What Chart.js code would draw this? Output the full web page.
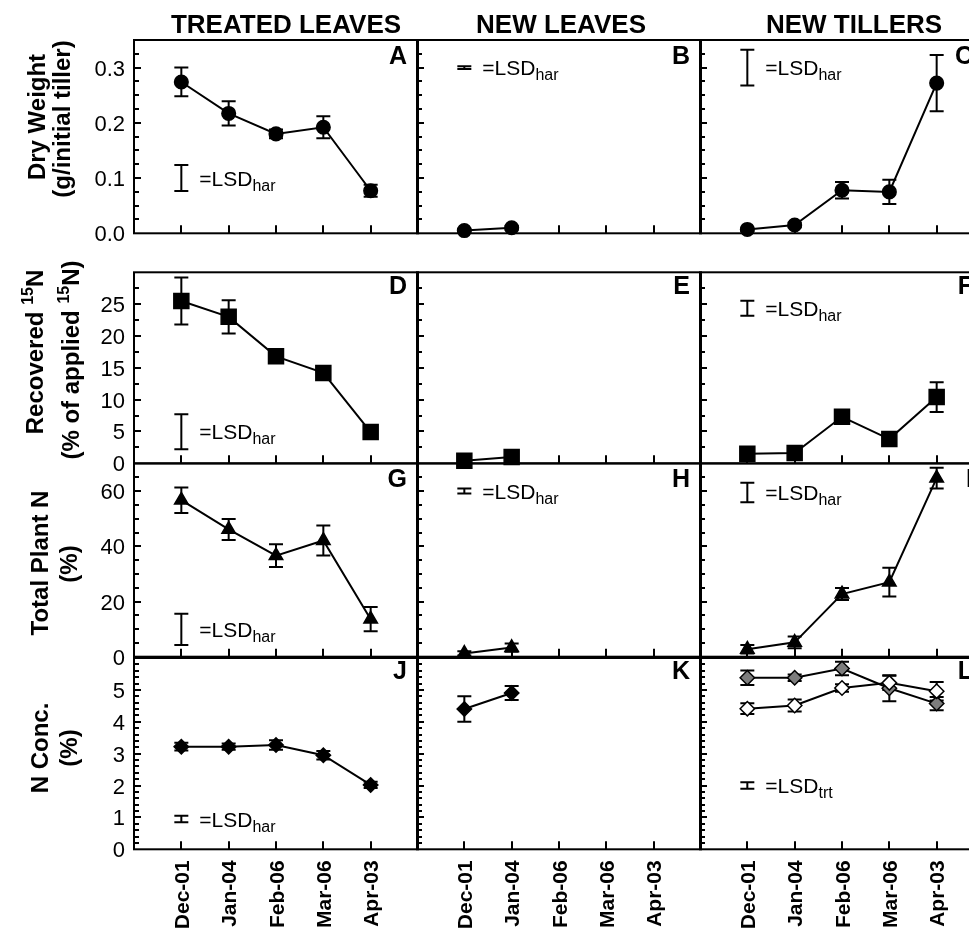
<!DOCTYPE html>
<html>
<head>
<meta charset="utf-8">
<script src="https://cdn.jsdelivr.net/npm/chart.js@4.4.1/dist/chart.umd.min.js"></script>
<style>
  html, body { margin: 0; padding: 0; background: #fff; overflow: hidden; }
  #wrap { position: relative; width: 969px; height: 928px; overflow: hidden; background: #fff; }
  #wrap canvas { position: absolute; left: 0; top: 0; }
</style>
</head>
<body>
<div id="wrap"></div>
<script>
// ---- Harvest dates (x categories) ----
const months = ['Dec-01', 'Jan-04', 'Feb-06', 'Mar-06', 'Apr-03'];

// ---- Dry weight (g/initial tiller) ----
const dwTreated        = [0.274, 0.217, 0.180, 0.192, 0.077];
const dwTreatedErr     = [0.026, 0.022, 0.008, 0.020, 0.011];
const dwNewLeaves      = [0.005, 0.010, null, null, null];
const dwNewLeavesErr   = [0.002, 0.003, 0, 0, 0];
const dwNewTillers     = [0.007, 0.015, 0.078, 0.075, 0.272];
const dwNewTillersErr  = [0.003, 0.004, 0.015, 0.022, 0.051];
const dwLsd            = [0.047, 0.005, 0.065];   // LSD(har) per column
const dwLsdAt          = [0.10, 0.30, 0.30];      // value the LSD bar is centred on

// ---- Recovered 15N (% of applied 15N) ----
const rnTreated        = [25.5, 23.0, 16.8, 14.2, 4.9];
const rnTreatedErr     = [3.7, 2.6, 0.6, 0.7, 1.0];
const rnNewLeaves      = [0.4, 1.0, null, null, null];
const rnNewLeavesErr   = [0.3, 0.3, 0, 0, 0];
const rnNewTillers     = [1.5, 1.6, 7.3, 3.8, 10.4];
const rnNewTillersErr  = [0.5, 0.6, 1.0, 0.7, 2.35];
const rnLsd            = [5.5, null, 2.35];
const rnLsdAt          = [4.95, null, 24.35];

// ---- Total plant N (%) ----
const tnTreated        = [56.7, 46.1, 36.6, 42.1, 13.6];
const tnTreatedErr     = [4.6, 3.8, 4.1, 5.45, 4.4];
const tnNewLeaves      = [1.2, 3.3, null, null, null];
const tnNewLeavesErr   = [0.8, 1.5, 0, 0, 0];
const tnNewTillers     = [2.7, 5.2, 22.7, 27.0, 64.7];
const tnNewTillersErr  = [1.5, 2.1, 2.2, 5.2, 3.8];
const tnLsd            = [11.3, 1.8, 7.1];
const tnLsdAt          = [9.9, 60.0, 59.5];

// ---- N concentration (%) ----
const ncTreated        = [3.22, 3.22, 3.27, 2.95, 2.02];
const ncTreatedErr     = [0.12, 0.10, 0.15, 0.13, 0.10];
const ncNewLeaves      = [4.40, 4.90, null, null, null];
const ncNewLeavesErr   = [0.40, 0.22, 0, 0, 0];
const ncTillersOpen    = [4.41, 4.51, 5.06, 5.22, 4.96];
const ncTillersOpenErr = [0.17, 0.19, 0.12, 0.22, 0.29];
const ncTillersGray    = [5.38, 5.38, 5.67, 5.05, 4.57];
const ncTillersGrayErr = [0.23, 0.10, 0.21, 0.41, 0.21];
const ncLsd            = [0.2, null, 0.2];
const ncLsdAt          = [0.95, null, 2.0];

// ---- Axis definitions per row ----
const yMax      = [0.35, 30, 70, 6];
const yMinor    = [0.025, 2.5, 5, 0.2];
const yMajor    = [0.1, 5, 20, 1];
const yDecimals = [1, 0, 0, 0];

const colTitles = ['TREATED LEAVES', 'NEW LEAVES', 'NEW TILLERS'];
// LSD subscript per panel: harvest-date LSD, except treatment LSD in panel L
const lsdSubs = [['har', 'har', 'har'], ['har', 'har', 'har'], ['har', 'har', 'har'], ['har', 'har', 'trt']];

// ---- Layout ----
const FONT = '"Liberation Sans", Arial, Helvetica, sans-serif';
const W = 1000, H = 928;
const colX = [[134, 418], [417, 701], [700, 984]];
const rowY = [[40, 233.3], [272.3, 463.3], [463.5, 656.7], [658, 849.3]];
const titleCx = [286, 561, 854];
const letterOffset = [24, 22, 23, 21];

const rowTitles = [
  { lines: [[{ t: 'Dry Weight' }], [{ t: '(g/initial tiller)' }]], x: [45, 70], cy: [117, 119] },
  { lines: [[{ t: 'Recovered ' }, { t: '15', sup: true }, { t: 'N' }],
            [{ t: '(% of applied ' }, { t: '15', sup: true }, { t: 'N)' }]], x: [43, 79], cy: [352, 360] },
  { lines: [[{ t: 'Total Plant N' }], [{ t: '(%)' }]], x: [48, 77], cy: [563, 564] },
  { lines: [[{ t: 'N Conc.' }], [{ t: '(%)' }]], x: [48, 77], cy: [748, 748] }
];

const marker = {
  circle:   { style: 'circle',   r: 6.8 },
  square:   { style: 'rect',     r: 10.6 },
  triangle: { style: 'triangle', r: 7.8 },
  diamond:  { style: 'rectRot',  r: 7.2 }
};

const rowValues = [
  [dwTreated, dwNewLeaves, dwNewTillers],
  [rnTreated, rnNewLeaves, rnNewTillers],
  [tnTreated, tnNewLeaves, tnNewTillers],
  [ncTreated, ncNewLeaves, null]
];
const rowErrors = [
  [dwTreatedErr, dwNewLeavesErr, dwNewTillersErr],
  [rnTreatedErr, rnNewLeavesErr, rnNewTillersErr],
  [tnTreatedErr, tnNewLeavesErr, tnNewTillersErr],
  [ncTreatedErr, ncNewLeavesErr, null]
];
const rowLsd   = [dwLsd, rnLsd, tnLsd, ncLsd];
const rowLsdAt = [dwLsdAt, rnLsdAt, tnLsdAt, ncLsdAt];
const rowMarker = ['circle', 'square', 'triangle', 'diamond'];
const letters = [['A', 'B', 'C'], ['D', 'E', 'F'], ['G', 'H', 'I'], ['J', 'K', 'L']];

function segFont(size, bold) {
  return (bold ? 'bold ' : '') + size + 'px ' + FONT;
}

// Draws a run of text segments (normal / superscript / subscript)
function drawRich(ctx, segs, x, y, align, rotate, size, bold, smallSize, shift) {
  ctx.save();
  ctx.translate(x, y);
  if (rotate) ctx.rotate(-Math.PI / 2);
  ctx.textBaseline = 'alphabetic';
  ctx.textAlign = 'left';
  ctx.fillStyle = '#000';
  let total = 0;
  const widths = segs.map(s => {
    ctx.font = segFont((s.sup || s.sub) ? smallSize : size, bold);
    const w = ctx.measureText(s.t).width;
    total += w;
    return w;
  });
  let cx = align === 'center' ? -total / 2 : (align === 'right' ? -total : 0);
  segs.forEach((s, i) => {
    ctx.font = segFont((s.sup || s.sub) ? smallSize : size, bold);
    const dy = s.sup ? -shift : (s.sub ? shift : 0);
    ctx.fillText(s.t, cx, dy);
    cx += widths[i];
  });
  ctx.restore();
}

function errorBars(ctx, xs, ys, values, errs) {
  if (!errs) return;
  ctx.save();
  ctx.strokeStyle = '#000';
  ctx.lineWidth = 2;
  values.forEach((v, i) => {
    const e = errs[i];
    if (v == null || !e) return;
    const px = xs.getPixelForValue(i + 1);
    const top = ys.getPixelForValue(v + e);
    const bot = ys.getPixelForValue(v - e);
    ctx.beginPath();
    ctx.moveTo(px, top); ctx.lineTo(px, bot);
    ctx.moveTo(px - 7, top); ctx.lineTo(px + 7, top);
    ctx.moveTo(px - 7, bot); ctx.lineTo(px + 7, bot);
    ctx.stroke();
  });
  ctx.restore();
}

const wrap = document.getElementById('wrap');

function makePanel(row, col) {
  const canvas = document.createElement('canvas');
  canvas.width = W; canvas.height = H;
  canvas.style.width = W + 'px'; canvas.style.height = H + 'px';
  wrap.appendChild(canvas);

  const [x0, x1] = colX[col];
  const [y0, y1] = rowY[row];
  const mk = marker[rowMarker[row]];

  // series for this panel
  let series;
  if (row === 3 && col === 2) {
    series = [
      { values: ncTillersOpen, errs: ncTillersOpenErr, fill: '#ffffff' },
      { values: ncTillersGray, errs: ncTillersGrayErr, fill: '#7d7d7d' }
    ];
  } else {
    series = [{ values: rowValues[row][col], errs: rowErrors[row][col], fill: '#000000' }];
  }

  const datasets = series.map(s => ({
    data: s.values.map((v, i) => ({ x: i + 1, y: v })).filter(d => d.y != null),
    borderColor: '#000',
    borderWidth: 2,
    tension: 0,
    fill: false,
    clip: false,
    pointStyle: mk.style,
    pointRadius: mk.r,
    pointHoverRadius: mk.r,
    pointBackgroundColor: s.fill,
    pointBorderColor: '#000',
    pointBorderWidth: 1.5
  }));

  const lsd = rowLsd[row][col];
  const lsdAt = rowLsdAt[row][col];

  const panelPlugin = {
    id: 'panelFrame',
    beforeDatasetsDraw(chart) {
      const { ctx, chartArea: a, scales: { x, y } } = chart;
      ctx.save();
      ctx.strokeStyle = '#000';
      ctx.lineWidth = 2;
      ctx.strokeRect(a.left, a.top, a.right - a.left, a.bottom - a.top);
      // inward y ticks
      ctx.beginPath();
      const n = Math.round(yMax[row] / yMinor[row]);
      for (let k = 1; k < n; k++) {
        const v = k * yMinor[row];
        const r = v / yMajor[row];
        const isMajor = Math.abs(r - Math.round(r)) < 1e-6;
        const py = Math.round(y.getPixelForValue(v));
        ctx.moveTo(a.left, py);
        ctx.lineTo(a.left + (isMajor ? 7 : 5), py);
      }
      // inward x ticks
      months.forEach((m, i) => {
        const px = Math.round(x.getPixelForValue(i + 1));
        ctx.moveTo(px, a.bottom);
        ctx.lineTo(px, a.bottom - 8);
      });
      ctx.stroke();
      ctx.restore();

      series.forEach(s => errorBars(ctx, x, y, s.values, s.errs));

      // LSD reference bar
      if (lsd != null) {
        const px = x.getPixelForValue(1);
        const top = y.getPixelForValue(lsdAt + lsd / 2);
        const bot = y.getPixelForValue(lsdAt - lsd / 2);
        ctx.save();
        ctx.strokeStyle = '#000';
        ctx.lineWidth = 2;
        ctx.beginPath();
        ctx.moveTo(px, top); ctx.lineTo(px, bot);
        ctx.moveTo(px - 7, top); ctx.lineTo(px + 7, top);
        ctx.moveTo(px - 7, bot); ctx.lineTo(px + 7, bot);
        ctx.stroke();
        ctx.restore();
      }
    },
    afterDraw(chart) {
      const { ctx, chartArea: a, scales: { x, y } } = chart;
      ctx.save();
      ctx.fillStyle = '#000';

      // y tick labels on the first column
      if (col === 0) {
        ctx.font = '22px ' + FONT;
        ctx.textAlign = 'right';
        ctx.textBaseline = 'alphabetic';
        const nMaj = Math.floor(yMax[row] / yMajor[row] + 1e-9);
        for (let k = 0; k <= nMaj; k++) {
          const v = k * yMajor[row];
          if (v >= yMax[row] - 1e-9) continue;
          const py = y.getPixelForValue(v);
          ctx.fillText(v.toFixed(yDecimals[row]), a.left - 9, py + 8);
        }
        const rt = rowTitles[row];
        rt.lines.forEach((segs, li) => {
          drawRich(ctx, segs, rt.x[li], rt.cy[li], 'center', true, 24, true, 16, 10);
        });
      }

      // x tick labels on the bottom row
      if (row === 3) {
        ctx.font = 'bold 21px ' + FONT;
        months.forEach((m, i) => {
          const px = x.getPixelForValue(i + 1);
          ctx.save();
          ctx.translate(px + 7.5, a.bottom + 11);
          ctx.rotate(-Math.PI / 2);
          ctx.textAlign = 'right';
          ctx.textBaseline = 'alphabetic';
          ctx.fillText(m, 0, 0);
          ctx.restore();
        });
      }

      // column titles
      if (row === 0) {
        ctx.font = 'bold 26px ' + FONT;
        ctx.textAlign = 'center';
        ctx.textBaseline = 'alphabetic';
        ctx.fillText(colTitles[col], titleCx[col], 33);
      }

      // panel letter
      ctx.font = 'bold 25px ' + FONT;
      ctx.textAlign = 'right';
      ctx.textBaseline = 'alphabetic';
      ctx.fillText(letters[row][col], a.right - 11, a.top + letterOffset[row]);

      // LSD label
      if (lsd != null) {
        const px = x.getPixelForValue(1);
        const py = y.getPixelForValue(lsdAt);
        drawRich(ctx, [{ t: '=LSD' }, { t: lsdSubs[row][col], sub: true }],
          px + 18, py + 7.5, 'left', false, 21, false, 16, 5);
      }
      ctx.restore();
    }
  };

  new Chart(canvas, {
    type: 'line',
    data: { datasets },
    options: {
      responsive: false,
      animation: false,
      devicePixelRatio: 1,
      events: [],
      layout: { padding: { left: x0, top: y0, right: W - x1, bottom: H - y1 } },
      plugins: { legend: { display: false }, tooltip: { enabled: false }, title: { display: false } },
      scales: {
        x: { type: 'linear', display: false, min: 0, max: 6 },
        y: { type: 'linear', display: false, min: 0, max: yMax[row] }
      }
    },
    plugins: [panelPlugin]
  });
}

for (let r = 0; r < 4; r++) {
  for (let c = 0; c < 3; c++) makePanel(r, c);
}
</script>
</body>
</html>
